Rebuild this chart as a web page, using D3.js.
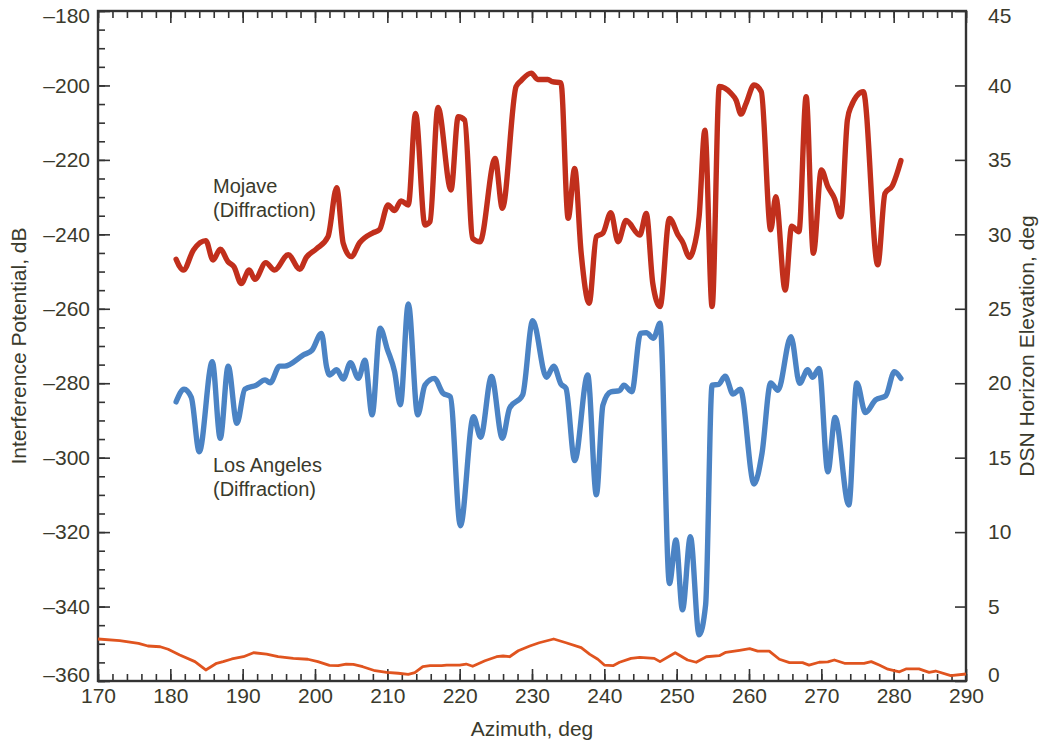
<!DOCTYPE html>
<html>
<head>
	<title>Interference Potential</title>
	<script src="https://d3js.org/d3.v7.min.js"></script>
	<style>
		body { margin: 0; background: #fff; }
		text { font-family: "Liberation Sans", Arial, sans-serif; fill: #3a3a2c; }
	</style>
</head>
<body>
<section id="container"></section>
<script>
//Mojave diffraction curve (azimuth deg, dB)
var mojaveAz = [180.8,181.8,183.2,184.9,185.9,186.9,188.0,188.8,189.8,190.9,191.7,193.2,194.4,196.3,197.9,198.8,200.2,201.8,203.0,203.9,205.0,206.2,208.0,208.9,210.1,211.0,211.9,212.9,213.9,215.2,215.9,217.0,218.8,219.8,220.7,221.8,222.8,224.9,225.9,227.8,228.5,229.9,230.8,232.2,232.8,234.0,235.0,235.9,236.8,237.9,238.9,239.8,240.9,241.9,243.0,244.9,245.8,246.7,247.7,249.0,250.2,250.8,251.8,252.3,253.1,253.9,254.9,255.9,257.5,258.2,258.9,259.6,260.7,261.7,263.0,263.7,265.0,265.9,266.9,267.9,268.9,270.0,270.9,271.8,272.7,273.6,274.1,275.8,277.8,278.8,279.8,281.0];
var mojaveDb = [-246.7,-249.6,-244.2,-241.7,-246.9,-244.0,-247.4,-248.7,-253.2,-249.6,-252.1,-247.6,-249.6,-245.5,-249.4,-246.2,-243.9,-240.6,-227.5,-242.4,-246.0,-242.2,-239.6,-238.8,-232.1,-233.6,-231.0,-232.1,-207.5,-237.5,-236.6,-205.9,-228.1,-208.4,-209.3,-241.1,-242.0,-219.6,-233.0,-200.3,-198.7,-196.7,-198.4,-198.4,-199.0,-199.3,-235.7,-222.3,-245.1,-258.5,-240.6,-239.7,-234.2,-242.0,-236.3,-240.2,-234.4,-253.2,-259.4,-235.7,-240.2,-242.0,-246.2,-244.2,-235.3,-212.0,-259.4,-200.3,-202.1,-203.9,-207.7,-204.8,-199.9,-201.7,-238.8,-229.9,-255.0,-237.8,-239.3,-203.0,-245.1,-222.7,-227.2,-230.3,-235.3,-209.3,-205.7,-201.7,-248.2,-229.0,-227.0,-220.2];

//Los Angeles diffraction curve (azimuth deg, dB)
var laAz = [180.8,181.9,182.9,184.0,185.8,186.9,188.0,189.2,190.3,191.9,193.1,193.8,195.1,195.8,198.4,199.6,200.9,201.6,202.0,203.0,203.9,204.9,206.0,206.9,207.9,209.0,210.0,211.0,211.8,212.9,214.2,215.2,216.5,217.7,218.7,220.1,221.9,222.9,224.4,225.9,226.9,228.7,230.1,232.0,233.0,234.0,234.7,235.9,237.7,238.9,239.8,240.9,242.1,242.7,243.8,245.0,245.8,246.8,247.7,249.0,249.9,250.8,251.9,253.1,254.0,254.9,255.8,256.7,257.8,258.8,260.7,261.8,263.0,264.0,265.8,267.0,268.1,268.8,269.7,270.9,271.9,273.8,274.9,276.1,277.5,278.9,280.1,281.0];
var laDb = [-285.0,-281.6,-283.8,-298.4,-274.2,-294.8,-275.4,-290.8,-281.6,-280.5,-279.1,-279.9,-275.4,-275.4,-272.4,-271.1,-266.6,-275.6,-277.8,-276.4,-278.9,-274.5,-278.7,-273.8,-288.5,-265.2,-270.9,-276.9,-285.8,-258.7,-288.5,-280.5,-278.7,-282.7,-283.6,-318.3,-289.0,-294.5,-278.2,-294.8,-286.7,-283.2,-263.2,-278.4,-275.4,-280.2,-281.4,-300.8,-277.8,-310.0,-285.9,-282.3,-282.0,-280.5,-282.3,-266.6,-266.4,-267.9,-263.9,-333.8,-322.1,-340.9,-321.2,-347.6,-339.6,-280.5,-280.3,-278.1,-282.9,-281.6,-307.1,-298.8,-279.9,-281.9,-267.5,-280.0,-276.4,-278.4,-276.0,-303.8,-289.2,-312.7,-279.9,-287.9,-284.5,-283.4,-276.9,-278.7];

//DSN horizon elevation (azimuth deg, elevation deg)
var horizonAz = [170.0,173.0,175.6,176.9,178.6,179.7,181.3,183.4,184.9,186.4,187.3,188.5,190.1,191.5,193.3,194.9,197.0,199.0,200.4,202.0,203.2,204.3,205.3,206.6,208.3,209.9,211.5,212.9,213.8,214.9,215.9,217.5,218.2,220.0,220.9,221.8,223.5,225.1,226.0,226.9,228.1,229.7,231.0,233.0,234.7,236.8,238.0,239.1,240.0,241.2,242.1,243.7,244.9,246.9,247.7,249.8,251.5,252.7,254.1,255.9,256.8,258.7,260.1,261.2,262.8,264.2,265.6,267.4,268.3,269.7,270.9,271.8,273.2,275.9,276.9,278.0,279.2,280.8,281.7,283.5,284.9,285.8,287.9,290.0];
var horizonDeg = [2.82,2.71,2.53,2.35,2.30,2.13,1.75,1.30,0.74,1.19,1.30,1.48,1.63,1.90,1.81,1.63,1.52,1.46,1.30,1.05,1.03,1.14,1.12,0.96,0.69,0.58,0.52,0.45,0.56,0.96,1.03,1.03,1.07,1.07,1.14,0.99,1.36,1.63,1.68,1.63,2.03,2.35,2.57,2.82,2.57,2.24,1.79,1.46,1.07,1.03,1.26,1.52,1.59,1.52,1.30,1.90,1.41,1.26,1.63,1.70,1.93,2.06,2.17,2.01,2.01,1.46,1.23,1.23,1.07,1.26,1.28,1.41,1.19,1.19,1.30,1.07,0.79,0.62,0.81,0.81,0.58,0.67,0.36,0.47];

//Tick values
var xMajor = d3.range(170, 291, 10);
var xMinor = d3.range(170, 291, 2);
var yMajor = d3.range(-360, -179, 20);
var yMinor = d3.range(-360, -179, 5);
var rMajor = d3.range(0, 46, 5);

//Plot frame (window.top is reserved, so use own names)
var plotL = 98, plotR = 966, plotT = 11, plotB = 681;

var svg = d3.select("#container")
	.append("svg")
	.attr("width",1043)
	.attr("height",744);

var x = d3.scaleLinear().domain([170,290]).range([plotL,plotR]);
var yL = d3.scaleLinear().domain([-360,-180]).range([plotB,plotT]);
var yR = d3.scaleLinear().domain([0,45]).range([plotB,plotT]);

var fmt = function(d) { return d < 0 ? "\u2013" + Math.abs(d) : d; };

//Helper to draw an axis with inward ticks
function addAxis(axis, tx, ty, showText) {
	var g = svg.append("g")
		.attr("transform","translate(" + tx + "," + ty + ")")
		.call(axis);
	g.select(".domain").remove();
	g.selectAll(".tick line").attr("stroke","#333").attr("stroke-width",1.6);
	g.selectAll(".tick text")
		.style("font-size","21px")
		.attr("fill","#3a3a2c")
		.style("display", showText ? null : "none");
	return g;
}

//Nudge the end labels of a vertical axis inward, like the original
function nudgeEnds(g, lo, hi) {
	g.selectAll(".tick text")
		.attr("dy", function(d) {
			if (d === lo) return "0.0em";
			if (d === hi) return "0.55em";
			return "0.32em";
		});
}

//Minor ticks
addAxis(d3.axisBottom(x).tickValues(xMinor).tickSize(-7).tickFormat(""), 0, plotB, false);
addAxis(d3.axisTop(x).tickValues(xMinor).tickSize(-7).tickFormat(""), 0, plotT, false);
addAxis(d3.axisLeft(yL).tickValues(yMinor).tickSize(-7).tickFormat(""), plotL, 0, false);

//Major ticks
addAxis(d3.axisBottom(x).tickValues(xMajor).tickSize(-12).tickPadding(7), 0, plotB, true);
addAxis(d3.axisTop(x).tickValues(xMajor).tickSize(-12).tickFormat(""), 0, plotT, false);
var leftAxis = addAxis(d3.axisLeft(yL).tickValues(yMajor).tickSize(-12).tickPadding(8).tickFormat(fmt), plotL, 0, true);
var rightAxis = addAxis(d3.axisRight(yR).tickValues(rMajor).tickSize(-11).tickPadding(22), plotR, 0, true);
nudgeEnds(leftAxis, -360, -180);
nudgeEnds(rightAxis, 0, 45);

//Frame
svg.append("rect")
	.attr("x",plotL)
	.attr("y",plotT)
	.attr("width",plotR-plotL)
	.attr("height",plotB-plotT)
	.attr("fill","none")
	.attr("stroke","#333")
	.attr("stroke-width",2.4);

//Lines
var lineL = d3.line()
	.x(function(d) { return x(d[0]); })
	.y(function(d) { return yL(d[1]); })
	.curve(d3.curveMonotoneX);

var lineR = d3.line()
	.x(function(d) { return x(d[0]); })
	.y(function(d) { return yR(d[1]); });

svg.append("path")
	.datum(d3.zip(horizonAz, horizonDeg))
	.attr("d",lineR)
	.attr("fill","none")
	.attr("stroke","#e0541f")
	.attr("stroke-width",2.8)
	.attr("stroke-linejoin","round");

svg.append("path")
	.datum(d3.zip(laAz, laDb))
	.attr("d",lineL)
	.attr("fill","none")
	.attr("stroke","#4b83c4")
	.attr("stroke-width",5.4)
	.attr("stroke-linejoin","round")
	.attr("stroke-linecap","round");

svg.append("path")
	.datum(d3.zip(mojaveAz, mojaveDb))
	.attr("d",lineL)
	.attr("fill","none")
	.attr("stroke","#c12f1c")
	.attr("stroke-width",5.4)
	.attr("stroke-linejoin","round")
	.attr("stroke-linecap","round");

//Series labels
function label(lines, px, py) {
	var t = svg.append("text")
		.attr("x",px)
		.attr("y",py)
		.style("font-size","20px");
	lines.forEach(function(s, i) {
		t.append("tspan")
			.attr("x",px)
			.attr("dy", i === 0 ? 0 : 24)
			.text(s);
	});
}
label(["Mojave","(Diffraction)"], 213, 193);
label(["Los Angeles","(Diffraction)"], 213, 472);

//Axis titles
svg.append("text")
	.attr("x",(plotL+plotR)/2)
	.attr("y",736)
	.attr("text-anchor","middle")
	.style("font-size","21px")
	.text("Azimuth, deg");

svg.append("text")
	.attr("transform","translate(26," + (plotT+plotB)/2 + ") rotate(-90)")
	.attr("text-anchor","middle")
	.style("font-size","21px")
	.text("Interference Potential, dB");

svg.append("text")
	.attr("transform","translate(1034," + (plotT+plotB)/2 + ") rotate(-90)")
	.attr("text-anchor","middle")
	.style("font-size","21px")
	.text("DSN Horizon Elevation, deg");
</script>
</body>
</html>
